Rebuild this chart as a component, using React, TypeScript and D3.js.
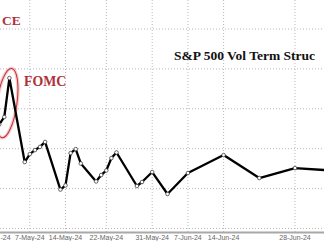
import React from "react";
import * as d3 from "d3";

const W = 324;
const H = 241;

// Data: S&P 500 vol term structure
const dates: string[] = [
  "2024-05-01", "2024-05-02", "2024-05-03", "2024-05-06", "2024-05-07",
  "2024-05-08", "2024-05-09", "2024-05-10", "2024-05-13", "2024-05-14",
  "2024-05-15", "2024-05-16", "2024-05-17", "2024-05-20", "2024-05-21",
  "2024-05-22", "2024-05-23", "2024-05-24", "2024-05-28", "2024-05-29",
  "2024-05-31", "2024-06-03", "2024-06-07", "2024-06-14", "2024-06-21",
  "2024-06-28", "2024-07-05",
];
const values: number[] = [
  0.8521, 0.8559, 0.8754, 0.8333, 0.8373,
  0.8393, 0.8409, 0.8434, 0.8195, 0.8216,
  0.8378, 0.8398, 0.8326, 0.8236, 0.8268,
  0.8291, 0.8353, 0.8381, 0.8213, 0.8233,
  0.8283, 0.8173, 0.8278, 0.8368, 0.8253,
  0.8303, 0.8291,
];
const tickDates: string[] = [
  "2024-04-30", "2024-05-07", "2024-05-14", "2024-05-22",
  "2024-05-31", "2024-06-07", "2024-06-14", "2024-06-28",
];
const tickLabels: string[] = [
  "-24", "7-May-24", "14-May-24", "22-May-24",
  "31-May-24", "7-Jun-24", "14-Jun-24", "28-Jun-24",
];
const yTicks: number[] = [0.8, 0.82, 0.84, 0.86, 0.88, 0.9];
const title = "S&P 500 Vol Term Struc";
const notes: string[] = ["CE", "FOMC"];

const parse = (s: string) => new Date(s + "T00:00:00Z");

export default function App() {
  const pxPerDay = 5.1;
  const d0 = parse("2024-05-07");
  const dStart = parse("2024-04-30");
  const dEnd = parse("2024-07-05");
  const dayMs = 86400000;
  const x = d3
    .scaleUtc()
    .domain([dStart, dEnd])
    .range([
      29.8 + ((+dStart - +d0) / dayMs) * pxPerDay,
      29.8 + ((+dEnd - +d0) / dayMs) * pxPerDay,
    ]);
  const y = d3.scaleLinear().domain([0.8, 0.9]).range([228.5, 29]);

  const pts = dates.map((d, i) => ({ d: parse(d), v: values[i] }));
  const line = d3
    .line<{ d: Date; v: number }>()
    .x((p) => x(p.d))
    .y((p) => y(p.v));

  const peak = pts[2];
  const ex = x(peak.d) - 2.5;
  const ey = y(peak.v) + 25;

  return (
    <svg
      width={W}
      height={H}
      style={{ position: "absolute", left: 0, top: 0, background: "#fff" }}
    >
      <rect x={0} y={0} width={W} height={H} fill="#fff" />
      {/* grid */}
      <g stroke="#b8b8b8" strokeWidth={1} strokeDasharray="1,2">
        {yTicks.map((t) => (
          <line key={"h" + t} x1={0} x2={W} y1={y(t)} y2={y(t)} />
        ))}
        {tickDates.map((t) => (
          <line key={"v" + t} x1={x(parse(t))} x2={x(parse(t))} y1={0} y2={232} />
        ))}
      </g>
      {/* axis line */}
      <line x1={0} x2={W} y1={232.5} y2={232.5} stroke="#a8a8a8" strokeWidth={2} />
      {tickDates.map((t, i) => {
        const cx = x(parse(t));
        const offLeft = cx < 10;
        return (
          <text
            key={"l" + t}
            x={offLeft ? 0.5 : cx}
            y={240}
            textAnchor={offLeft ? "start" : "middle"}
            fontFamily="Liberation Sans, Arial, sans-serif"
            fontSize={7}
            fill="#666"
          >
            {tickLabels[i]}
          </text>
        );
      })}
      {/* ellipse highlight */}
      <g transform={`translate(${ex},${ey}) rotate(8)`}>
        <ellipse rx={10} ry={35} fill="none" stroke="#f0b4b4" strokeWidth={3.5} opacity={0.7} />
        <ellipse rx={10} ry={35} fill="none" stroke="#c0303a" strokeWidth={1} />
      </g>
      {/* line */}
      <path d={line(pts) || ""} fill="none" stroke="#000" strokeWidth={2.3} strokeLinejoin="round" />
      {pts.map((p, i) => (
        <circle key={i} cx={x(p.d)} cy={y(p.v)} r={1.8} fill="#fff" stroke="#444" strokeWidth={0.8} />
      ))}
      {/* annotations */}
      <text x={2} y={25} fontFamily="Liberation Serif, Times New Roman, serif" fontWeight="bold" fontSize={13.5} fill="#b0303a">
        {notes[0]}
      </text>
      <text x={24} y={86} fontFamily="Liberation Serif, Times New Roman, serif" fontWeight="bold" fontSize={13.8} fill="#b0303a">
        {notes[1]}
      </text>
      <text x={174} y={60} fontFamily="Liberation Serif, Times New Roman, serif" fontWeight="bold" fontSize={13.5} fill="#111">
        {title}
      </text>
    </svg>
  );
}
